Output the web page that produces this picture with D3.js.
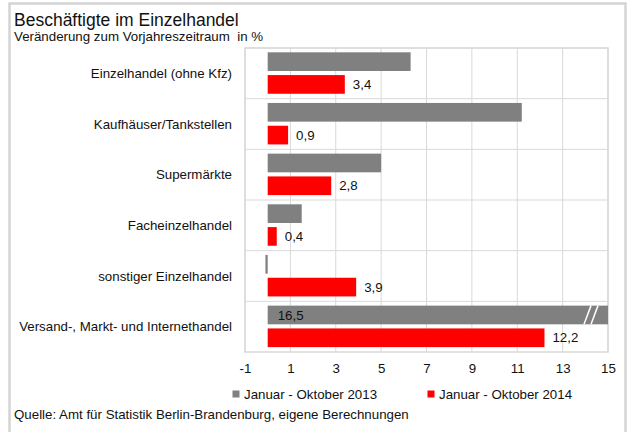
<!DOCTYPE html>
<html>
<head>
<meta charset="utf-8">
<script src="https://cdn.jsdelivr.net/npm/d3@7"></script>
<style>
  body { margin: 0; background: #fff; }
  svg text { font-family: "Liberation Sans", Arial, sans-serif; fill: #111; }
</style>
</head>
<body>
<svg id="chart"></svg>
<script>
// data
const categories = [
  "Einzelhandel (ohne Kfz)",
  "Kaufhäuser/Tankstellen",
  "Supermärkte",
  "Facheinzelhandel",
  "sonstiger Einzelhandel",
  "Versand-, Markt- und Internethandel"
];
const seriesNames = ["Januar - Oktober 2013", "Januar - Oktober 2014"];
const values2013 = [6.3, 11.2, 5.0, 1.5, -0.1, 16.5];
const values2014 = [3.4, 0.9, 2.8, 0.4, 3.9, 12.2];
const xTicks = [-1, 1, 3, 5, 7, 9, 11, 13, 15];
const colors = ["#808080", "#ff0000"];

const width = 629;
const height = 432;
const margin = { left: 245, right: 21, top: 48, bottom: 80 };
const xMax = 15;

var svg = d3.select('svg#chart').attr('width', width).attr('height', height)

// outer frame
svg.append('rect')
  .attr('x', 9.5).attr('y', 3.5)
  .attr('width', 616).attr('height', 450)
  .attr('fill', 'none').attr('stroke', '#d4d4d4').attr('stroke-width', 2.5)

// titles
svg.append('text').attr('x', 14).attr('y', 25.5)
  .style('font-size', '17.5px').text('Beschäftigte im Einzelhandel')
svg.append('text').attr('x', 14).attr('y', 41)
  .style('font-size', '13.3px').style('white-space', 'pre')
  .text('Veränderung zum Vorjahreszeitraum  in %')

var xScale = d3.scaleLinear()
  .domain([-1, xMax])
  .range([margin.left, width - margin.right])

var yScale = d3.scaleBand()
  .domain(categories)
  .range([margin.top, height - margin.bottom])

var innerScale = d3.scaleBand()
  .domain(seriesNames)
  .range([4.3, yScale.bandwidth() - 4.9])
  .paddingInner(0.18)

var rows = categories.map((c, i) => ({
  category: c,
  bars: [
    { series: seriesNames[0], value: values2013[i], color: colors[0] },
    { series: seriesNames[1], value: values2014[i], color: colors[1] }
  ]
}))

var fmt = d3.formatLocale({ decimal: ",", thousands: ".", grouping: [3], currency: ["", " €"] }).format(".1f")

// grid
var grid = svg.append('g')
grid.selectAll('line.v').data(xTicks).enter().append('line')
  .attr('x1', d => xScale(d)).attr('x2', d => xScale(d))
  .attr('y1', margin.top).attr('y2', height - margin.bottom)
  .attr('stroke', '#d9d9d9').attr('stroke-width', 1)
grid.selectAll('line.h').data(categories).enter().append('line')
  .attr('x1', xScale(-1)).attr('x2', xScale(xMax))
  .attr('y1', d => yScale(d)).attr('y2', d => yScale(d))
  .attr('stroke', '#d9d9d9').attr('stroke-width', 1)
svg.append('rect')
  .attr('x', xScale(-1)).attr('y', margin.top)
  .attr('width', xScale(xMax) - xScale(-1)).attr('height', height - margin.bottom - margin.top)
  .attr('fill', 'none').attr('stroke', '#d9d9d9').attr('stroke-width', 1.5)

// bars
var groups = svg.selectAll('g.row').data(rows).enter().append('g')
  .attr('transform', d => 'translate(0,' + yScale(d.category) + ')')

groups.selectAll('rect').data(d => d.bars).enter().append('rect')
  .attr('x', d => xScale(Math.min(0, d.value)))
  .attr('y', d => innerScale(d.series))
  .attr('width', d => Math.abs(xScale(Math.min(d.value, xMax)) - xScale(0)))
  .attr('height', innerScale.bandwidth())
  .attr('fill', d => d.color)

// value labels: 2014 at bar end, clipped 2013 inside the bar
groups.selectAll('text.val').data(d => d.bars.filter(b => b.series === seriesNames[1] || b.value > xMax))
  .enter().append('text')
  .attr('x', d => d.value > xMax ? xScale(0) + 10 : xScale(d.value) + 8)
  .attr('y', d => innerScale(d.series) + innerScale.bandwidth() / 2)
  .attr('dy', '0.35em')
  .style('font-size', '13.3px')
  .text(d => fmt(d.value))

// break marks on clipped bars
groups.each(function(d) {
  d.bars.filter(b => b.value > xMax).forEach(b => {
    var y0 = innerScale(b.series), y1 = y0 + innerScale.bandwidth()
    var xr = xScale(xMax)
    ;[-24, -17].forEach(off => {
      d3.select(this).append('line')
        .attr('x1', xr + off).attr('y1', y1)
        .attr('x2', xr + off + 7).attr('y2', y0)
        .attr('stroke', '#fff').attr('stroke-width', 1.5)
    })
  })
})

// category labels
svg.selectAll('text.cat').data(categories).enter().append('text')
  .attr('x', 232)
  .attr('y', d => yScale(d) + yScale.bandwidth() / 2)
  .attr('dy', '0.35em')
  .attr('text-anchor', 'end')
  .style('font-size', '13.3px')
  .text(d => d)

// x axis labels (no axis line)
var xAxis = svg.append('g')
  .attr('transform', 'translate(0,' + (height - margin.bottom) + ')')
  .call(d3.axisBottom(xScale).tickValues(xTicks).tickSize(0).tickPadding(12).tickFormat(d => String(d)))
xAxis.select('.domain').remove()
xAxis.selectAll('text').style('font-size', '13.3px').attr('fill', '#111')

// legend
var legendX = [236, 431]
var legend = svg.selectAll('g.legend').data(seriesNames).enter().append('g')
  .attr('transform', (d, i) => 'translate(' + legendX[i] + ',394)')
legend.append('rect').attr('x', -3.5).attr('y', -3.5).attr('width', 7).attr('height', 7)
  .attr('fill', (d, i) => colors[i])
legend.append('text').attr('x', 8).attr('dy', '0.35em')
  .style('font-size', '13.3px').text(d => d)

// source
svg.append('text').attr('x', 14).attr('y', 418.5)
  .style('font-size', '13.3px')
  .text('Quelle: Amt für Statistik Berlin-Brandenburg, eigene Berechnungen')
</script>
</body>
</html>
